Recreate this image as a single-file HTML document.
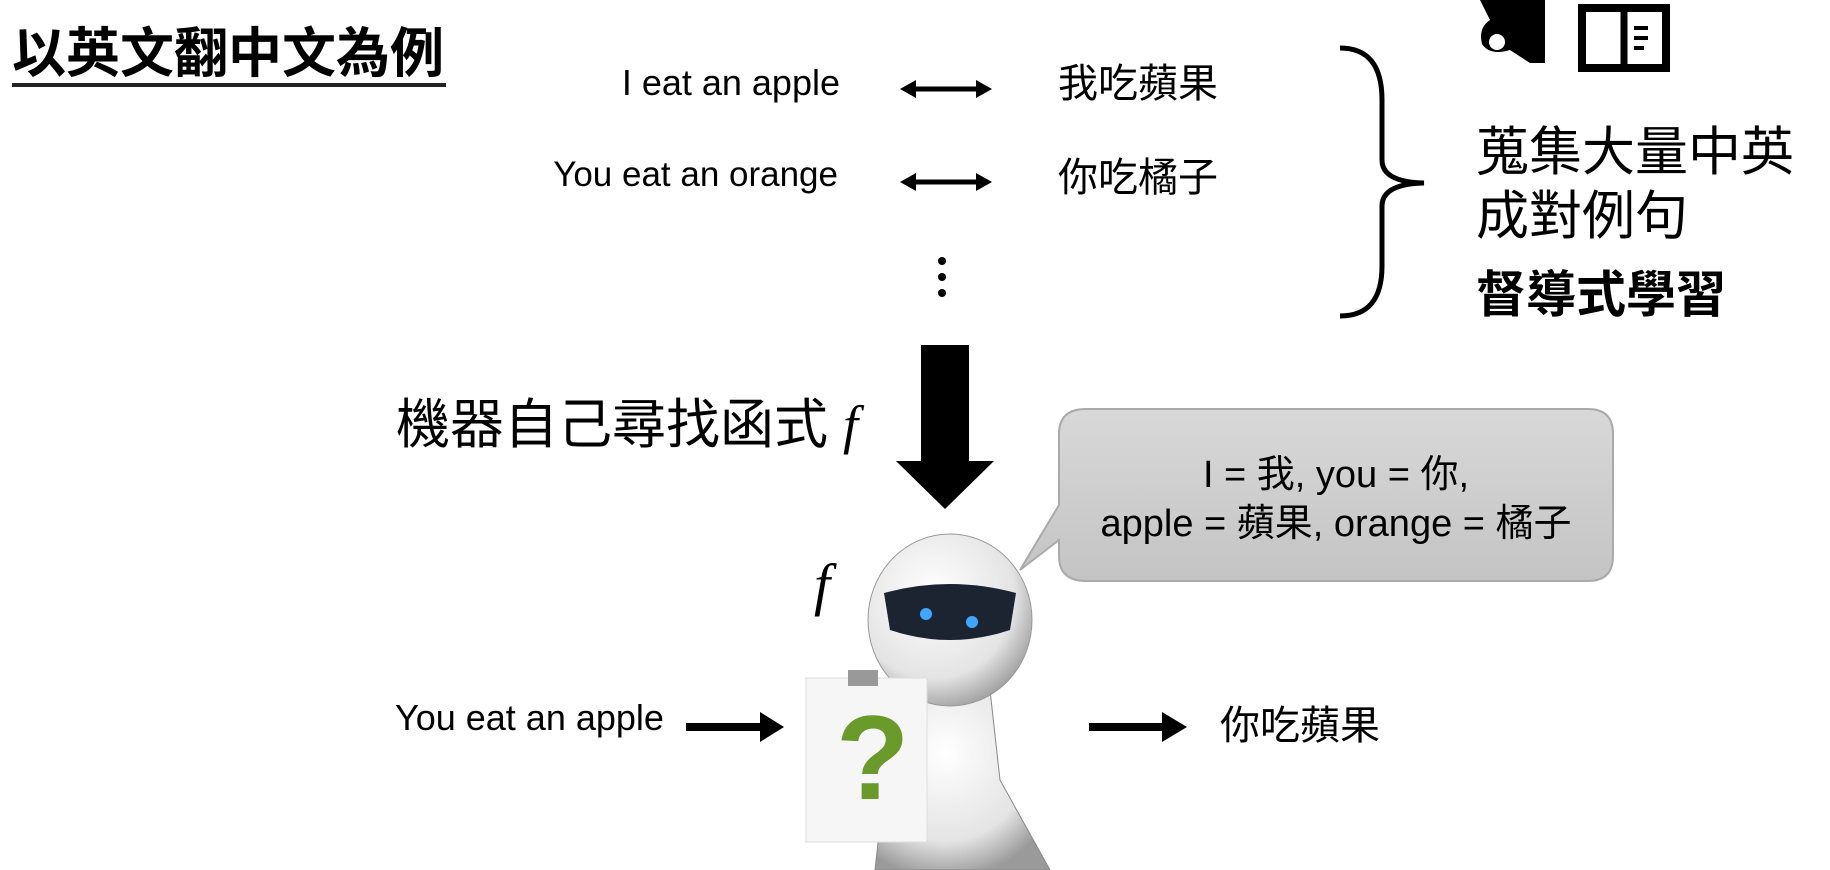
<!DOCTYPE html>
<html><head><meta charset="utf-8"><style>
body{margin:0;width:1830px;height:870px;background:#fff;position:relative;overflow:hidden;font-family:"Liberation Sans","Noto Sans CJK TC",sans-serif;color:#000}
.t{position:absolute;white-space:nowrap;line-height:1}
</style></head><body>
<div class="t" style="left:12px;top:27px;font-size:54px;font-weight:bold;letter-spacing:0px">以英文翻中文為例</div>
<div style="position:absolute;left:12px;top:83px;width:434px;height:4px;background:#222"></div>

<div class="t" style="right:990px;top:65px;font-size:36px">I eat an apple</div>
<div class="t" style="right:992px;top:157px;font-size:35px">You eat an orange</div>
<div class="t" style="left:1058px;top:64px;font-size:40px">我吃蘋果</div>
<div class="t" style="left:1058px;top:158px;font-size:40px">你吃橘子</div>

<svg style="position:absolute;left:0;top:0" width="1830" height="870">
 <g stroke="#000" stroke-width="5" fill="#000">
  <line x1="912" y1="89" x2="980" y2="89"/><polygon points="900,89 916,80 916,98" stroke="none"/><polygon points="992,89 976,80 976,98" stroke="none"/>
  <line x1="912" y1="182" x2="980" y2="182"/><polygon points="900,182 916,173 916,191" stroke="none"/><polygon points="992,182 976,173 976,191" stroke="none"/>
  <line x1="686" y1="727" x2="770" y2="727" stroke-width="8"/><polygon points="784,727 760,712 760,742" stroke="none"/>
  <line x1="1089" y1="727" x2="1172" y2="727" stroke-width="8"/><polygon points="1187,727 1162,712 1162,742" stroke="none"/>
 </g>
 <circle cx="942" cy="261" r="4"/><circle cx="942" cy="277" r="4"/><circle cx="942" cy="293" r="4"/>
 <path d="M1340,48 Q1382,48 1382,100 L1382,160 Q1382,182 1424,183 Q1382,184 1382,206 L1382,266 Q1382,316 1340,316" fill="none" stroke="#000" stroke-width="5"/>
 <path d="M1480,0 L1490,20 Q1478,28 1482,44 Q1490,56 1510,50 L1530,63 L1545,63 L1545,0 Z" fill="#000"/>
 <circle cx="1497" cy="42" r="8" fill="#fff"/>
 <rect x="1582" y="8" width="84" height="60" fill="none" stroke="#000" stroke-width="8"/>
 <line x1="1624" y1="8" x2="1624" y2="70" stroke="#000" stroke-width="7"/>
 <rect x="1634" y="26" width="14" height="4"/><rect x="1634" y="36" width="14" height="4"/><rect x="1634" y="46" width="10" height="4"/>
 <rect x="921" y="345" width="48" height="118" fill="#000"/>
 <polygon points="896,461 994,461 945,509" fill="#000"/>
 <defs><linearGradient id="g" x1="0" y1="0" x2="0" y2="1"><stop offset="0" stop-color="#d8d8d8"/><stop offset="1" stop-color="#c4c4c4"/></linearGradient>
 <radialGradient id="h" cx="0.4" cy="0.35" r="0.7"><stop offset="0" stop-color="#fff"/><stop offset="0.7" stop-color="#e4e4e4"/><stop offset="1" stop-color="#9a9a9a"/></radialGradient></defs>
 <path d="M1086,409 L1588,409 Q1613,409 1613,434 L1613,556 Q1613,581 1588,581 L1086,581 Q1059,581 1059,556 L1059,540 L1020,570 L1059,505 L1059,434 Q1059,409 1086,409 Z" fill="url(#g)" stroke="#aaa" stroke-width="2"/>
 <path d="M915,690 L990,690 L1000,780 L1050,870 L875,870 L885,780 Z" fill="url(#h)" stroke="#888"/>
 <ellipse cx="950" cy="620" rx="82" ry="86" fill="url(#h)" stroke="#999"/>
 <path d="M884,593 Q950,575 1016,593 L1010,630 Q950,650 890,630 Z" fill="#1b2430"/>
 <circle cx="926" cy="614" r="6" fill="#3fa7ff"/><circle cx="972" cy="622" r="6" fill="#3fa7ff"/>
 <rect x="806" y="678" width="121" height="164" fill="#f6f6f6" stroke="#ddd"/>
 <rect x="848" y="670" width="30" height="16" fill="#999"/>
</svg>
<div class="t" style="left:836px;top:698px;font-size:120px;font-weight:bold;color:#6a9a2a">?</div>

<div class="t" style="left:1476px;top:126px;font-size:53px">蒐集大量中英</div>
<div class="t" style="left:1476px;top:190px;font-size:53px">成對例句</div>
<div class="t" style="left:1476px;top:270px;font-size:50px;font-weight:bold">督導式學習</div>

<div class="t" style="left:396px;top:398px;font-size:54px">機器自己尋找函式 <i style="font-family:'Liberation Serif',serif">f</i></div>
<div class="t" style="left:1059px;top:456px;width:554px;text-align:center;font-size:38px">I = 我, you = 你,</div>
<div class="t" style="left:1059px;top:505px;width:554px;text-align:center;font-size:38px">apple = 蘋果, orange = 橘子</div>
<div class="t" style="left:814px;top:556px;font-size:58px;font-style:italic;font-family:'Liberation Serif',serif">f</div>

<div class="t" style="left:395px;top:700px;font-size:36px">You eat an apple</div>
<div class="t" style="left:1220px;top:706px;font-size:40px">你吃蘋果</div>
</body></html>
